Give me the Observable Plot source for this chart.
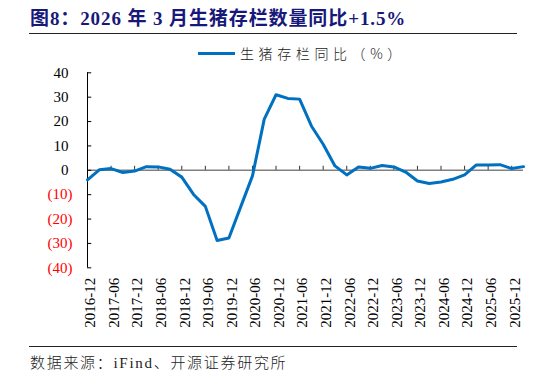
<!DOCTYPE html>
<html>
<head>
<meta charset="utf-8">
<script src="https://cdn.jsdelivr.net/npm/d3@7"></script>
<script src="https://cdn.jsdelivr.net/npm/@observablehq/plot@0.6"></script>
<style>
  html, body { margin: 0; padding: 0; background: #fff; }
  body { width: 546px; height: 376px; position: relative; overflow: hidden; font-family: "Liberation Serif", "Noto Sans CJK SC", serif; }
  #title { position: absolute; left: 30px; top: 3px; font-size: 19px; font-weight: bold; color: #17187a; white-space: nowrap; letter-spacing: 0.9px; }
  .rule { position: absolute; left: 29px; width: 488px; height: 0; border-top: 1.3px solid #222; }
  #legend { position: absolute; left: 198px; top: 44px; height: 18px; display: flex; align-items: center; font-size: 14px; color: #222; font-family: "Noto Sans CJK SC", sans-serif; font-weight: 300; letter-spacing: 4.6px; white-space: nowrap; }
  #legend .sw { width: 37px; height: 3px; background: #0070c0; margin-right: 5px; }
  #chart { position: absolute; left: 0; top: 60px; }
  #caption { position: absolute; left: 30px; top: 351px; font-size: 15px; color: #222; white-space: nowrap; font-family: "Liberation Serif", "Noto Sans CJK SC", serif; font-weight: 300; letter-spacing: 1.7px; }
</style>
</head>
<body>
<div id="title">图8：2026 年 3 月生猪存栏数量同比+1.5%</div>
<div class="rule" style="top:33px"></div>
<div id="legend"><span class="sw"></span><span>生猪存栏同比（%）</span></div>
<div id="chart"></div>
<div class="rule" style="top:346px"></div>
<div id="caption">数据来源：iFind、开源证券研究所</div>
<script>
const periods = [
  "2016-12","2017-03","2017-06","2017-09","2017-12","2018-03","2018-06","2018-09",
  "2018-12","2019-03","2019-06","2019-09","2019-12","2020-03","2020-06","2020-09",
  "2020-12","2021-03","2021-06","2021-09","2021-12","2022-03","2022-06","2022-09",
  "2022-12","2023-03","2023-06","2023-09","2023-12","2024-03","2024-06","2024-09",
  "2024-12","2025-03","2025-06","2025-09","2025-12","2026-03"
];
const yoy = [
  -3.9, 0.2, 0.7, -0.9, -0.3, 1.5, 1.4, 0.4,
  -2.8, -9.9, -14.8, -28.8, -27.8, -15.0, -2.3, 21.0,
  31.0, 29.5, 29.2, 18.2, 10.7, 1.8, -1.9, 1.4,
  0.8, 2.0, 1.4, -0.7, -4.4, -5.4, -4.8, -3.7,
  -1.9, 2.2, 2.2, 2.3, 0.7, 1.5
];
const tickLabels = [
  "2016-12","2017-06","2017-12","2018-06","2018-12","2019-06","2019-12","2020-06",
  "2020-12","2021-06","2021-12","2022-06","2022-12","2023-06","2023-12","2024-06",
  "2024-12","2025-06","2025-12"
];
const yPositive = [0, 10, 20, 30, 40];
const yNegative = [-10, -20, -30, -40];

const data = periods.map((p, i) => ({i, period: p, value: yoy[i]}));
const tickIdx = tickLabels.map(l => periods.indexOf(l));
const fontFamily = "Liberation Serif, Noto Sans CJK SC, serif";

const chart = Plot.plot({
  width: 546,
  height: 280,
  marginLeft: 87,
  marginRight: 23,
  marginTop: 12.3,
  marginBottom: 72.7,
  style: {fontFamily, fontSize: "15px", background: "transparent", overflow: "visible"},
  x: {type: "linear", domain: [0, periods.length - 1], axis: null, label: null},
  y: {domain: [-40, 40], axis: null, label: null},
  marks: [
    Plot.ruleY([0], {stroke: "#808080", strokeWidth: 1.6}),
    Plot.ruleX(tickIdx, {x: d => d, y1: 0, y2: 1.65, stroke: "#333", strokeWidth: 1}),
    Plot.ruleX([0], {y1: -40, y2: 40, stroke: "#000", strokeWidth: 1}),
    Plot.ruleY([...yPositive, ...yNegative], {x1: 0, x2: 0.36, stroke: "#000", strokeWidth: 1}),
    Plot.axisY(yPositive, {tickSize: 0, tickPadding: 19, fill: "#000", fontSize: 15, fontFamily, label: null, tickFormat: d => `${d}`}),
    Plot.axisY(yNegative, {tickSize: 0, tickPadding: 15, fill: "#ff0000", fontSize: 15, fontFamily, label: null, tickFormat: d => `(${-d})`}),
    Plot.axisX(tickIdx, {tickSize: 0, tickPadding: 10, tickRotate: -90, fontSize: 15, fontFamily, fill: "#000", label: null, tickFormat: i => periods[i], dx: 3}),
    Plot.line(data, {x: "i", y: "value", stroke: "#0070c0", strokeWidth: 3, strokeLinejoin: "round", strokeLinecap: "round"})
  ]
});
document.getElementById("chart").appendChild(chart);
</script>
</body>
</html>
